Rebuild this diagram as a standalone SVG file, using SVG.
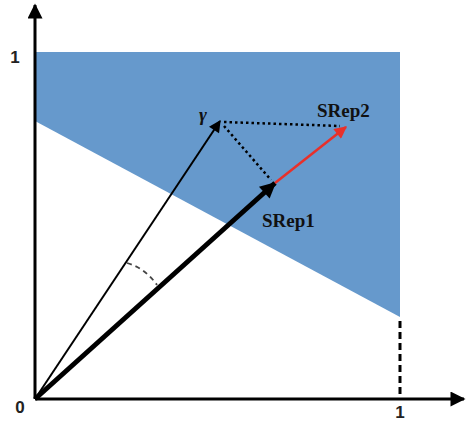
<svg xmlns="http://www.w3.org/2000/svg" width="466" height="422" viewBox="0 0 466 422">
<style>
.ax{stroke:#000;stroke-width:3;fill:none}
.lbl{font-family:"Liberation Sans",Arial,sans-serif;font-weight:bold;font-size:17px;fill:#222}
.vl{font-family:"Liberation Serif","DejaVu Serif",serif;font-weight:bold;font-size:19px;fill:#111}
.dot{stroke:#000;stroke-width:2.5;stroke-dasharray:2.5 3;fill:none}
</style>
<defs>
<marker id="ah" viewBox="0 0 10 10" refX="9" refY="5" markerWidth="5.5" markerHeight="5" orient="auto" markerUnits="strokeWidth"><path d="M0,0 L10,5 L0,10 z" fill="#000"/></marker>
<marker id="ahThin" viewBox="0 0 10 10" refX="9" refY="5" markerWidth="6.5" markerHeight="6" orient="auto" markerUnits="strokeWidth"><path d="M0,0 L10,5 L0,10 z" fill="#000"/></marker>
<marker id="ahThick" viewBox="0 0 10 10" refX="9" refY="5" markerWidth="3.6" markerHeight="3.2" orient="auto" markerUnits="strokeWidth"><path d="M0,0 L10,5 L0,10 z" fill="#000"/></marker>
<marker id="ahRed" viewBox="0 0 10 10" refX="9" refY="5" markerWidth="5.5" markerHeight="5" orient="auto" markerUnits="strokeWidth"><path d="M0,0 L10,5 L0,10 z" fill="#e8302a"/></marker>
</defs>
<g id="region">
<polygon points="35,52 400,52 400,317 35,121" fill="#6699cc"/>
</g>
<g id="axes">
<line class="ax" x1="35" y1="399" x2="35" y2="5" marker-end="url(#ah)"/>
<line class="ax" x1="35" y1="399" x2="464" y2="399" marker-end="url(#ah)"/>
<line x1="400" y1="321" x2="400" y2="398" stroke="#000" stroke-width="3" stroke-dasharray="7 4"/>
<text class="lbl" x="15" y="63" text-anchor="middle">1</text>
<text class="lbl" x="20" y="413" text-anchor="middle">0</text>
<text class="lbl" x="400" y="418" text-anchor="middle">1</text>
</g>
<g id="connectors">
<line x1="35" y1="399" x2="220" y2="121" stroke="#000" stroke-width="2" marker-end="url(#ahThin)"/>
<line x1="35" y1="399" x2="275" y2="183" stroke="#000" stroke-width="5" marker-end="url(#ahThick)"/>
<line x1="275" y1="183" x2="346" y2="127" stroke="#e8302a" stroke-width="2.5" marker-end="url(#ahRed)"/>
<line class="dot" x1="224" y1="122" x2="340" y2="126"/>
<line class="dot" x1="224" y1="126" x2="271" y2="180"/>
<path d="M127,263 Q145,268 157,285" stroke="#444" stroke-width="1.8" stroke-dasharray="5 4" fill="none"/>
</g>
<g id="gamma"><text class="vl" x="199" y="121" font-style="italic">γ</text></g>
<g id="srep2"><text class="vl" x="317" y="117">SRep2</text></g>
<g id="srep1"><text class="vl" x="262" y="227">SRep1</text></g>
</svg>
